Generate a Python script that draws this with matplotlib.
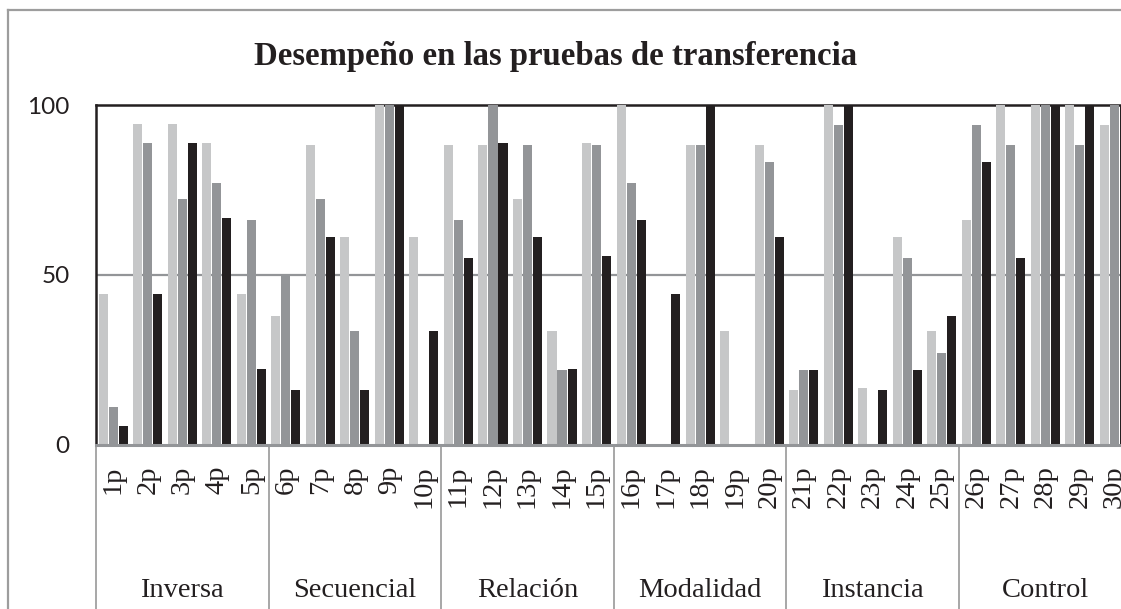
import matplotlib
matplotlib.use("Agg")
import matplotlib.pyplot as plt
import matplotlib.transforms as mtransforms
from matplotlib.lines import Line2D

participants = [f"{i}p" for i in range(1, 31)]
groups = ["Inversa", "Secuencial", "Relación", "Modalidad", "Instancia", "Control"]

serie_clara = [44.2, 94.4, 94.4, 88.8, 44.2,
               37.8, 88.2, 61.1, 100, 61.1,
               88.2, 88.2, 72.2, 33.3, 88.8,
               100, 0, 88.2, 33.3, 88.2,
               16.0, 100, 16.6, 61.1, 33.3,
               66.1, 100, 100, 100, 94.1]
serie_media = [11.0, 88.8, 72.3, 77.0, 66.1,
               50.0, 72.2, 33.3, 100, 0,
               66.1, 100, 88.2, 22.0, 88.2,
               77.0, 0, 88.2, 0, 83.2,
               22.0, 94.1, 0, 55.0, 27.0,
               94.1, 88.2, 100, 88.2, 100]
serie_oscura = [5.5, 44.2, 88.8, 66.7, 22.2,
                16.0, 61.1, 16.0, 100, 33.3,
                55.0, 88.8, 61.1, 22.2, 55.5,
                66.1, 44.2, 100, 0, 61.1,
                22.0, 100, 16.0, 22.0, 37.8,
                83.2, 55.0, 100, 100, 100]

W, H = 1121, 609
fig = plt.figure(figsize=(W / 100, H / 100), dpi=100)
fig.patch.set_facecolor("white")

# outer chart border (chart is cropped at right and bottom)
bx, by = 8 / W, 1 - 10 / H
fig.add_artist(Line2D([bx, bx], [-0.05, by], transform=fig.transFigure,
                      color="#9d9d9d", linewidth=1.6))
fig.add_artist(Line2D([bx, 1.05], [by, by], transform=fig.transFigure,
                      color="#9d9d9d", linewidth=1.6))

left, right = 96 / W, 1131.6 / W
top, bottom = 1 - 105 / H, 1 - 444.5 / H
ax = fig.add_axes([left, bottom, right - left, top - bottom])

x = list(range(len(participants)))
bw = 0.262
ax.bar([i - 0.29 for i in x], serie_clara, width=bw, color="#c6c7c8", zorder=3)
ax.bar(x, serie_media, width=bw, color="#939598", zorder=3)
ax.bar([i + 0.29 for i in x], serie_oscura, width=bw, color="#231f20", zorder=3)

ax.set_xlim(-0.5, len(participants) - 0.5)
ax.set_ylim(0, 100)
ax.set_yticks([0, 50, 100])
ax.set_yticklabels(["0", "50", "100"], fontsize=17.5, family="Lato", color="#231f20")
ax.tick_params(axis="y", length=0, pad=19)
ax.set_xticks(x)
ax.set_xticklabels(participants, rotation=90, fontsize=20.5,
                   family="Liberation Serif", color="#231f20", va="top")
ax.tick_params(axis="x", length=0, pad=15)

ax.axhline(50, color="#939598", linewidth=1.6, zorder=1)
for s in ["left", "top"]:
    ax.spines[s].set_color("#231f20")
    ax.spines[s].set_linewidth(1.8)
ax.spines["right"].set_visible(False)
ax.spines["bottom"].set_color("#939598")
ax.spines["bottom"].set_linewidth(2.2)
ax.spines["bottom"].set_zorder(4)

trans = mtransforms.blended_transform_factory(ax.transData, fig.transFigure)
for k in range(len(groups) + 1):
    xs = -0.5 + 5 * k
    ax.plot([xs, xs], [bottom, -0.05], transform=trans, color="#a0a0a0",
            linewidth=1.3, clip_on=False)
for k, g in enumerate(groups):
    ax.text(2 + 5 * k, 1 - 597 / H, g, transform=trans, ha="center",
            va="baseline", fontsize=20.5, family="Liberation Serif", color="#231f20")

fig.text(556 / W, 1 - 65 / H, "Desempeño en las pruebas de transferencia",
         ha="center", va="baseline", fontsize=23.6, fontweight="bold",
         family="Liberation Serif", color="#231f20")

fig.savefig("out.png", dpi=100)
